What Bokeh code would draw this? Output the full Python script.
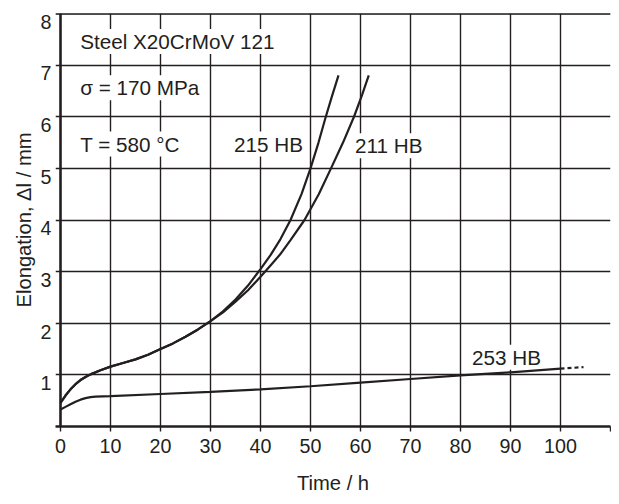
from bokeh.plotting import figure
from bokeh.models import Label, FixedTicker, Range1d, LinearAxis, Grid, Span, Title
from bokeh.embed import file_html
from bokeh.resources import INLINE

# ---- data ----
time_215 = [0, 1, 2, 3, 4, 5, 6, 8, 10, 12.5, 15, 17.5, 20, 22.5, 25, 27.5, 30,
            32.5, 35, 37.5, 40, 42, 44, 46, 48.2, 50, 51.6, 53, 54.3, 55.6]
elong_215 = [0.46, 0.6, 0.72, 0.82, 0.9, 0.96, 1.01, 1.09, 1.16, 1.23, 1.3, 1.39, 1.5,
             1.61, 1.74, 1.88, 2.04, 2.23, 2.46, 2.73, 3.05, 3.32, 3.63, 4.0, 4.5,
             5.0, 5.5, 5.98, 6.4, 6.8]

time_211 = [0, 1, 2, 3, 4, 5, 6, 8, 10, 12.5, 15, 17.5, 20, 22.5, 25, 27.5, 30,
            32.5, 35, 37.5, 40, 42, 43.9, 46, 48.8, 51.65, 54.1, 56.5, 58.7, 60.3, 61.65]
elong_211 = [0.46, 0.6, 0.72, 0.82, 0.9, 0.96, 1.01, 1.09, 1.16, 1.23, 1.3, 1.39, 1.5,
             1.61, 1.74, 1.88, 2.04, 2.21, 2.42, 2.64, 2.9, 3.12, 3.33, 3.61, 4.0,
             4.5, 5.0, 5.5, 6.0, 6.42, 6.8]

time_253 = [0, 1, 2, 3, 4, 5, 6, 7, 10, 20, 30, 40, 50, 60, 70, 80, 90, 100]
elong_253 = [0.33, 0.38, 0.43, 0.48, 0.52, 0.55, 0.57, 0.58, 0.59, 0.63, 0.67, 0.72,
             0.78, 0.85, 0.92, 0.99, 1.05, 1.12]
time_253_ext = [100, 104.6]
elong_253_ext = [1.12, 1.15]

x_ticks = [0, 10, 20, 30, 40, 50, 60, 70, 80, 90, 100]
x_end_tick = [110]
y_ticks = [0, 1, 2, 3, 4, 5, 6, 7, 8]

notes = ["Steel X20CrMoV 121", "σ = 170 MPa", "T = 580 °C"]
curve_names = ["215 HB", "211 HB", "253 HB"]
x_title = "Time / h"
y_title = "Elongation, Δl / mm"

INK = "#231f20"
FONT = "Liberation Sans"
LABEL_SHIFT = 0.162  # tick labels sit below their tick (tops aligned to tick)

p = figure(width=611, height=496, output_backend="svg", toolbar_location=None,
           x_range=Range1d(-1.0, 110), y_range=Range1d(0, 8.0001),
           x_axis_location=None, y_axis_location=None,
           min_border_left=55, min_border_right=1, min_border_top=13,
           min_border_bottom=69)
p.background_fill_color = "white"
p.border_fill_color = "white"
p.outline_line_color = None
p.center = []
p.extra_y_ranges = {"lab": Range1d(0 + LABEL_SHIFT, 8.0001 + LABEL_SHIFT)}

# grid (the left extension of the horizontal lines forms the y tick marks)
xgrid = Grid(dimension=0, ticker=FixedTicker(ticks=x_ticks + x_end_tick),
             grid_line_color=INK, grid_line_width=1.4)
ygrid = Grid(dimension=1, ticker=FixedTicker(ticks=y_ticks),
             grid_line_color=INK, grid_line_width=1.4)
p.add_layout(xgrid)
p.add_layout(ygrid)

# x axis
xaxis = LinearAxis(ticker=FixedTicker(ticks=x_ticks, minor_ticks=x_end_tick))
xaxis.axis_line_color = INK
xaxis.axis_line_width = 2.5
xaxis.major_tick_line_color = INK
xaxis.major_tick_line_width = 1.4
xaxis.major_tick_out = 5
xaxis.major_tick_in = 0
xaxis.minor_tick_line_color = INK
xaxis.minor_tick_line_width = 1.4
xaxis.minor_tick_out = 5
xaxis.minor_tick_in = 0
xaxis.major_label_text_font = FONT
xaxis.major_label_text_font_size = "19.7px"
xaxis.major_label_text_color = INK
xaxis.major_label_standoff = 7
xaxis.axis_label = x_title
xaxis.axis_label_text_font = FONT
xaxis.axis_label_text_font_size = "20.2px"
xaxis.axis_label_text_font_style = "normal"
xaxis.axis_label_text_color = INK
xaxis.axis_label_standoff = 16
p.add_layout(xaxis, "below")

# y axis: labels only, placed just under their tick
yaxis = LinearAxis(y_range_name="lab", bounds=(0, 8),
                   ticker=FixedTicker(ticks=y_ticks))
yaxis.axis_line_color = None
yaxis.major_tick_line_color = None
yaxis.minor_tick_line_color = None
yaxis.major_tick_out = 0
yaxis.major_tick_in = 0
yaxis.minor_tick_out = 0
yaxis.minor_tick_in = 0
yaxis.major_label_text_font = FONT
yaxis.major_label_text_font_size = "19.7px"
yaxis.major_label_text_color = INK
yaxis.major_label_standoff = 4
p.add_layout(yaxis, "left")

p.add_layout(Title(text=y_title, align="center", offset=-23, standoff=6,
                   text_font=FONT, text_font_size="20.2px",
                   text_font_style="normal", text_color=INK), "left")

# axis line at t = 0 and top border
p.add_layout(Span(location=0, dimension="height", line_color=INK, line_width=2.5))
p.add_layout(Span(location=8, dimension="width", line_color=INK, line_width=2.5))

# annotations with white boxes
def box_label(x, y, text):
    p.add_layout(Label(x=x, y=y, text=text, text_align="left",
                       text_baseline="alphabetic", text_font=FONT,
                       text_font_size="20.7px", text_color=INK,
                       background_fill_color="white", padding=1))

box_label(3.73, 7.46, notes[0])
box_label(3.73, 6.56, notes[1])
box_label(3.73, 5.47, notes[2])
box_label(34.5, 5.47, curve_names[0])
box_label(58.7, 5.44, curve_names[1])
box_label(82.1, 1.34, curve_names[2])

# curves (drawn above the label boxes)
p.line(time_215, elong_215, line_color=INK, line_width=2.2, level="overlay")
p.line(time_211, elong_211, line_color=INK, line_width=2.2, level="overlay")
p.line(time_253, elong_253, line_color=INK, line_width=2.2, level="overlay")
p.line(time_253_ext, elong_253_ext, line_color=INK, line_width=2.2,
       line_dash="4 3", level="overlay")

open("out.html", "w").write(file_html(p, INLINE))
